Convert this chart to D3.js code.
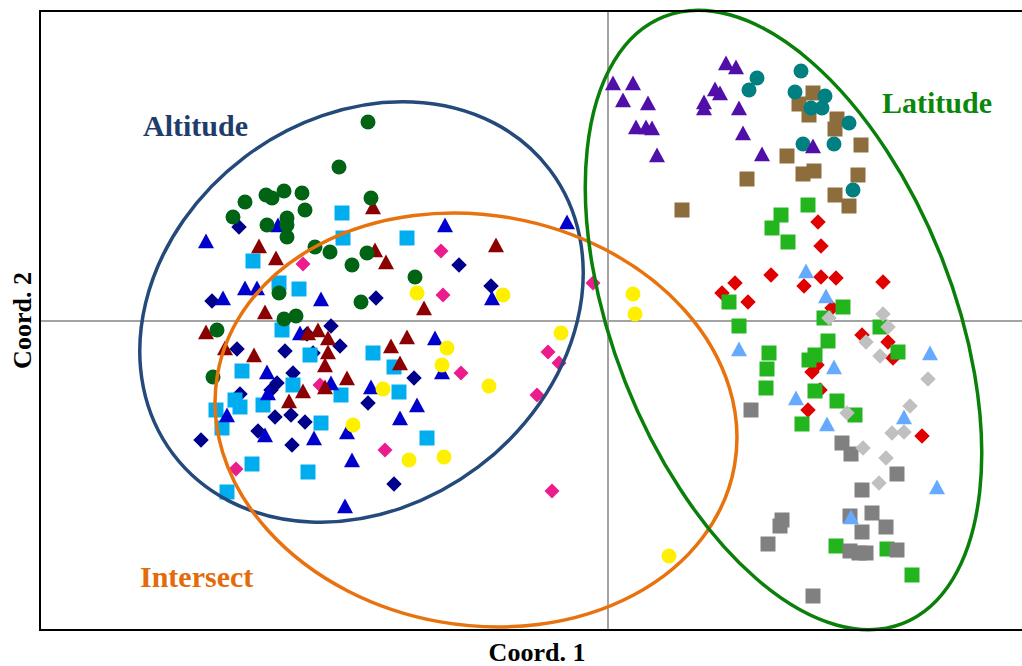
<!DOCTYPE html>
<html>
<head>
<meta charset="utf-8">
<script src="https://cdn.jsdelivr.net/npm/d3@7"></script>
<style>
  html, body { margin: 0; padding: 0; background: #fff; }
  svg { display: block; }
  text { font-family: "Liberation Serif", "DejaVu Serif", serif; font-weight: bold; }
</style>
</head>
<body>
<svg id="chart" width="1022" height="666"></svg>
<script>
// PCoA scores (Coord. 1, Coord. 2) per sample group
const altGreenCircles = [
  [-0.240, 0.199], [-0.269, 0.154], [-0.237, 0.123], [-0.363, 0.119], [-0.342, 0.126],
  [-0.336, 0.123], [-0.324, 0.130], [-0.306, 0.128], [-0.375, 0.104], [-0.341, 0.096],
  [-0.321, 0.103], [-0.321, 0.096], [-0.321, 0.084], [-0.303, 0.111], [-0.293, 0.074],
  [-0.278, 0.069], [-0.241, 0.068], [-0.256, 0.056], [-0.193, 0.044], [-0.247, 0.019],
  [-0.329, 0.028], [-0.324, 0.002], [-0.312, 0.005], [-0.391, -0.009], [-0.395, -0.056]
];
const altBlueTriangles = [
  [-0.402, 0.080], [-0.330, 0.096], [-0.163, 0.096], [-0.041, 0.099], [-0.363, 0.033],
  [-0.351, 0.033], [-0.385, 0.023], [-0.287, 0.022], [-0.116, 0.023], [-0.308, -0.012],
  [-0.173, -0.017], [-0.166, -0.051], [-0.277, -0.062], [-0.237, -0.066], [-0.191, -0.084],
  [-0.208, -0.097], [-0.294, -0.117], [-0.261, -0.111], [-0.256, -0.139], [-0.263, -0.185],
  [-0.341, -0.051], [-0.340, -0.072], [-0.381, -0.094], [-0.343, -0.114]
];
const altRedTriangles = [
  [-0.235, 0.114], [-0.233, 0.071], [-0.222, 0.059], [-0.112, 0.076], [-0.349, 0.075],
  [-0.332, 0.063], [-0.343, 0.009], [-0.402, -0.011], [-0.383, -0.027], [-0.354, -0.034],
  [-0.184, 0.013], [-0.290, -0.009], [-0.300, -0.012], [-0.280, -0.017], [-0.280, -0.031],
  [-0.283, -0.044], [-0.305, -0.070], [-0.283, -0.066], [-0.261, -0.057], [-0.217, -0.025],
  [-0.201, -0.016], [-0.208, -0.042], [-0.319, -0.080]
];
const altNavyDiamonds = [
  [-0.369, 0.094], [-0.149, 0.056], [-0.117, 0.035], [-0.232, 0.023], [-0.396, 0.020],
  [-0.371, -0.028], [-0.323, -0.030], [-0.277, -0.005], [-0.301, -0.013], [-0.268, -0.025],
  [-0.295, -0.032], [-0.315, -0.052], [-0.194, -0.057], [-0.240, -0.082], [-0.303, -0.101],
  [-0.214, -0.163], [-0.368, -0.073], [-0.331, -0.062], [-0.337, -0.069], [-0.333, -0.096],
  [-0.317, -0.094], [-0.350, -0.110], [-0.316, -0.124], [-0.407, -0.119]
];
const altCyanSquares = [
  [-0.266, 0.108], [-0.265, 0.083], [-0.201, 0.083], [-0.355, 0.060], [-0.329, 0.038],
  [-0.309, 0.032], [-0.326, -0.009], [-0.298, -0.034], [-0.366, -0.050], [-0.235, -0.032],
  [-0.214, -0.046], [-0.267, -0.074], [-0.209, -0.071], [-0.287, -0.102], [-0.181, -0.117],
  [-0.300, -0.151], [-0.392, -0.089], [-0.368, -0.086], [-0.373, -0.079], [-0.345, -0.084],
  [-0.315, -0.064], [-0.386, -0.107], [-0.356, -0.143], [-0.381, -0.171]
];
const midPinkDiamonds = [
  [-0.167, 0.070], [-0.305, 0.057], [-0.165, 0.026], [-0.015, 0.038], [-0.060, -0.031],
  [-0.049, -0.042], [-0.147, -0.052], [-0.288, -0.064], [-0.071, -0.074], [-0.223, -0.129],
  [-0.056, -0.170], [-0.372, -0.148]
];
const midYellowCircles = [
  [-0.191, 0.028], [-0.105, 0.026], [-0.047, -0.012], [-0.161, -0.027], [-0.166, -0.044],
  [-0.225, -0.068], [-0.119, -0.065], [-0.255, -0.104], [-0.199, -0.139], [-0.164, -0.136],
  [0.025, 0.027], [0.027, 0.007], [0.061, -0.235]
];
const latBrownSquares = [
  [0.205, 0.228], [0.191, 0.217], [0.201, 0.206], [0.229, 0.202], [0.227, 0.192],
  [0.253, 0.176], [0.179, 0.165], [0.195, 0.147], [0.206, 0.150], [0.250, 0.146],
  [0.227, 0.126], [0.241, 0.115], [0.139, 0.142], [0.074, 0.111]
];
const latTealCircles = [
  [0.149, 0.243], [0.141, 0.231], [0.193, 0.250], [0.187, 0.229], [0.217, 0.225],
  [0.203, 0.213], [0.214, 0.213], [0.241, 0.198], [0.195, 0.177], [0.226, 0.177],
  [0.245, 0.131]
];
const latPurpleTriangles = [
  [0.005, 0.238], [0.025, 0.238], [0.015, 0.221], [0.040, 0.218], [0.118, 0.258],
  [0.128, 0.254], [0.028, 0.194], [0.038, 0.194], [0.044, 0.193], [0.049, 0.166],
  [0.107, 0.232], [0.112, 0.228], [0.096, 0.219], [0.096, 0.213], [0.131, 0.213],
  [0.135, 0.188], [0.154, 0.167], [0.205, 0.175]
];
const latRedDiamonds = [
  [0.210, 0.099], [0.213, 0.075], [0.127, 0.038], [0.163, 0.046], [0.114, 0.028],
  [0.140, 0.019], [0.196, 0.035], [0.213, 0.044], [0.228, 0.043], [0.275, 0.039],
  [0.224, 0.013], [0.254, -0.014], [0.280, -0.021], [0.285, -0.037], [0.204, -0.051],
  [0.209, -0.044], [0.212, -0.069], [0.200, -0.089], [0.314, -0.115]
];
const latGreenSquares = [
  [0.200, 0.116], [0.173, 0.106], [0.164, 0.093], [0.180, 0.079], [0.121, 0.019],
  [0.131, -0.005], [0.235, 0.014], [0.216, 0.003], [0.220, -0.020], [0.161, -0.032],
  [0.159, -0.048], [0.207, -0.034], [0.201, -0.039], [0.158, -0.067], [0.207, -0.070],
  [0.229, -0.080], [0.272, -0.006], [0.290, -0.031], [0.194, -0.103], [0.247, -0.094],
  [0.228, -0.225], [0.279, -0.228], [0.304, -0.254]
];
const latGraySquares = [
  [0.143, -0.089], [0.234, -0.122], [0.243, -0.133], [0.289, -0.153], [0.254, -0.169],
  [0.264, -0.192], [0.242, -0.195], [0.254, -0.211], [0.278, -0.206], [0.174, -0.199],
  [0.172, -0.205], [0.160, -0.223], [0.242, -0.230], [0.251, -0.232], [0.258, -0.232],
  [0.289, -0.229], [0.205, -0.275]
];
const latSilverDiamonds = [
  [0.221, 0.003], [0.275, 0.007], [0.280, -0.006], [0.258, -0.021], [0.272, -0.035],
  [0.320, -0.058], [0.302, -0.085], [0.284, -0.112], [0.296, -0.111], [0.239, -0.092],
  [0.255, -0.127], [0.278, -0.137], [0.271, -0.162]
];
const latSkyTriangles = [
  [0.198, 0.050], [0.218, 0.025], [0.131, -0.028], [0.226, -0.046], [0.188, -0.077],
  [0.219, -0.103], [0.322, -0.032], [0.296, -0.096], [0.329, -0.166], [0.243, -0.196]
];

// Dispersion ellipses: centre, semi-axes (Coord units), rotation in degrees (anticlockwise)
const ellipseNames = ["Altitude", "Intersect", "Latitude"];
const ellipseCentres = [[-0.2465, 0.009], [-0.132, -0.099], [0.1755, 0.001]];
const ellipseRadii = [[0.236, 0.194], [0.2625, 0.205], [0.326, 0.170]];
const ellipseAngles = [37, -10, -68.5];
const ellipseLabelPos = [[-0.465, 0.185], [-0.468, -0.266], [0.274, 0.208]];

const axisTitles = ["Coord. 1", "Coord. 2"];

// Drawing setup
const svg = d3.select("#chart");
const x = d3.scaleLinear().domain([-0.568, 0.414]).range([40, 1022]);
const y = d3.scaleLinear().domain([-0.309, 0.310]).range([630, 11]);

const shapes = {
  circle: { draw(ctx, s) { const r = s / 2; ctx.moveTo(r, 0); ctx.arc(0, 0, r, 0, 2 * Math.PI); } },
  square: { draw(ctx, s) { const h = s / 2; ctx.rect(-h, -h, s, s); } },
  triangle: { draw(ctx, s) { const h = s / 2; ctx.moveTo(0, -h * 0.95); ctx.lineTo(h, h * 0.9); ctx.lineTo(-h, h * 0.9); ctx.closePath(); } },
  diamond: { draw(ctx, s) { const h = s / 2; ctx.moveTo(0, -h); ctx.lineTo(h, 0); ctx.lineTo(0, h); ctx.lineTo(-h, 0); ctx.closePath(); } }
};

const series = [
  { data: midPinkDiamonds, shape: "diamond", size: 15, color: "#EC1C8C" },
  { data: altNavyDiamonds, shape: "diamond", size: 15.5, color: "#00008B" },
  { data: altCyanSquares, shape: "square", size: 15, color: "#00AEEF" },
  { data: altBlueTriangles, shape: "triangle", size: 16, color: "#0000CD" },
  { data: altRedTriangles, shape: "triangle", size: 16, color: "#8B0000" },
  { data: altGreenCircles, shape: "circle", size: 15, color: "#006414" },
  { data: midYellowCircles, shape: "circle", size: 15, color: "#FFF000" },
  { data: latBrownSquares, shape: "square", size: 15, color: "#8C6D3B" },
  { data: latTealCircles, shape: "circle", size: 15, color: "#008080" },
  { data: latPurpleTriangles, shape: "triangle", size: 16, color: "#500FA8" },
  { data: latRedDiamonds, shape: "diamond", size: 15.5, color: "#E00000" },
  { data: latGreenSquares, shape: "square", size: 15, color: "#22B51E" },
  { data: latGraySquares, shape: "square", size: 15, color: "#808080" },
  { data: latSilverDiamonds, shape: "diamond", size: 15.5, color: "#C0C0C0" },
  { data: latSkyTriangles, shape: "triangle", size: 16, color: "#66AAFF" }
];

const ellipseColors = ["#24497B", "#E8730E", "#0A800A"];
const labelColors = ["#1F3D6B", "#E36C0A", "#0B870B"];

// Reference lines through the origin
svg.append("line")
  .attr("x1", x(0)).attr("x2", x(0))
  .attr("y1", y.range()[1]).attr("y2", y.range()[0])
  .attr("stroke", "#A3A3A3").attr("stroke-width", 2);
svg.append("line")
  .attr("x1", x.range()[0]).attr("x2", x.range()[1])
  .attr("y1", y(0)).attr("y2", y(0))
  .attr("stroke", "#A3A3A3").attr("stroke-width", 2);

// Sample points
const gPts = svg.append("g");
series.forEach(s => {
  const sym = d3.symbol().type(shapes[s.shape]).size(s.size);
  gPts.append("g").selectAll("path")
    .data(s.data)
    .join("path")
    .attr("transform", d => `translate(${x(d[0])},${y(d[1])})`)
    .attr("d", sym)
    .attr("fill", s.color);
});

// Group ellipses
const pxPerUnit = x(1) - x(0);
ellipseNames.forEach((name, i) => {
  const [cx, cy] = ellipseCentres[i];
  const [rx, ry] = ellipseRadii[i];
  svg.append("ellipse")
    .attr("transform", `translate(${x(cx)},${y(cy)}) rotate(${-ellipseAngles[i]})`)
    .attr("rx", rx * pxPerUnit)
    .attr("ry", ry * pxPerUnit)
    .attr("fill", "none")
    .attr("stroke", ellipseColors[i])
    .attr("stroke-width", 3.5);
  svg.append("text")
    .attr("x", x(ellipseLabelPos[i][0]))
    .attr("y", y(ellipseLabelPos[i][1]))
    .attr("fill", labelColors[i])
    .attr("font-size", 30)
    .text(name);
});

// Plot frame
const [x0, x1] = x.range();
const [yb, yt] = y.range();
svg.append("path")
  .attr("d", `M${x1 + 5},${yt} L${x0},${yt} L${x0},${yb} L${x1 + 5},${yb}`)
  .attr("fill", "none").attr("stroke", "#000").attr("stroke-width", 2);

// Axis titles
svg.append("text")
  .attr("x", 537).attr("y", 661)
  .attr("text-anchor", "middle").attr("font-size", 26).attr("fill", "#000")
  .text(axisTitles[0]);
svg.append("text")
  .attr("transform", `translate(31,${(yb + yt) / 2}) rotate(-90)`)
  .attr("text-anchor", "middle").attr("font-size", 26).attr("fill", "#000")
  .text(axisTitles[1]);
</script>
</body>
</html>
